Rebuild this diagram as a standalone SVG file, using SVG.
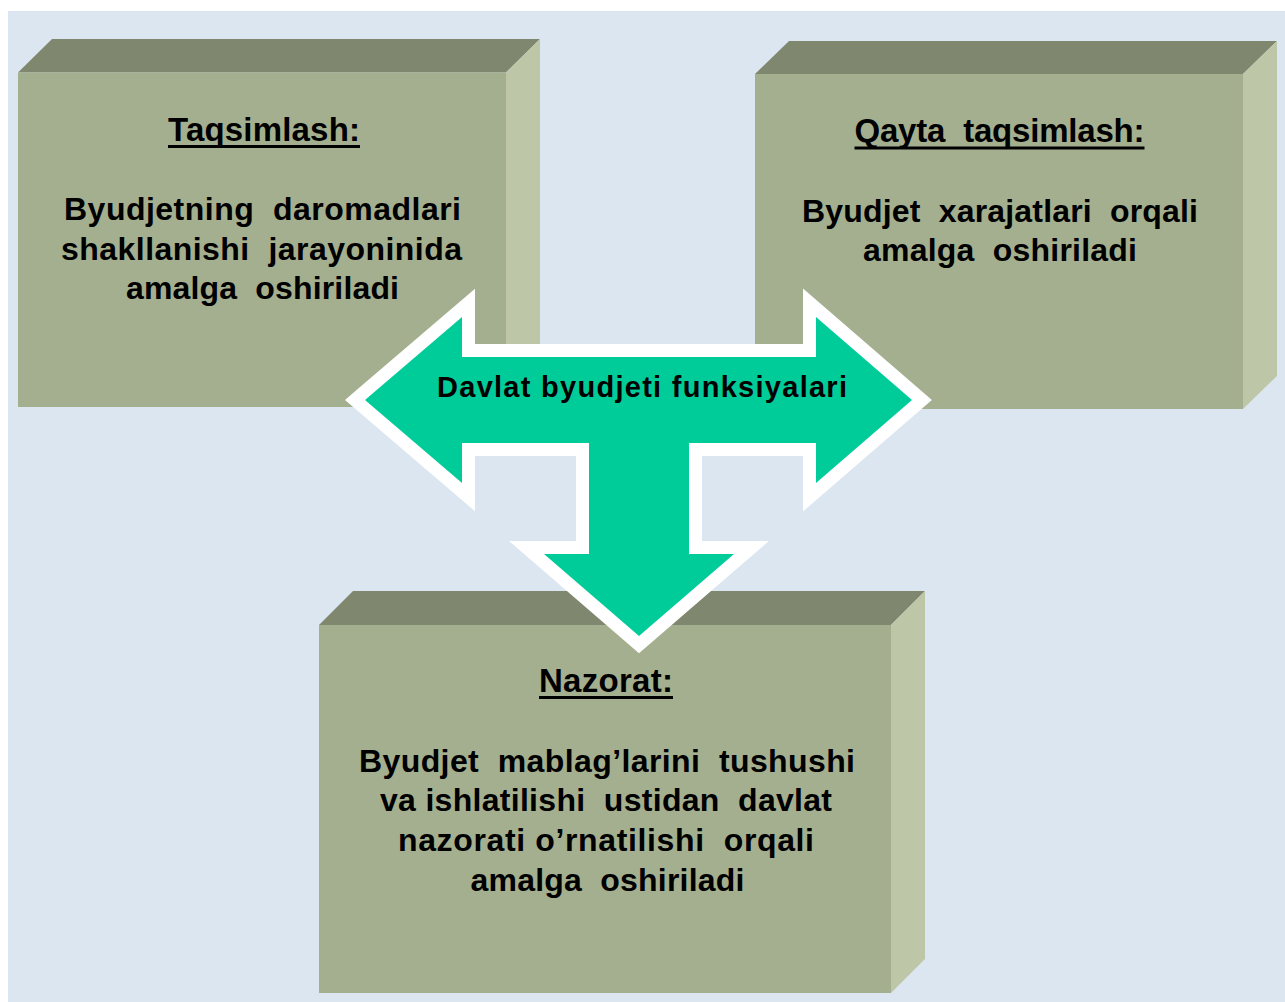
<svg xmlns="http://www.w3.org/2000/svg" width="1285" height="1002" viewBox="0 0 1285 1002">
<style>
.front{fill:#A4AF8F;}
.top{fill:#7F876F;}
.side{fill:#BDC7A7;}
.t{font-family:"Liberation Sans",Arial,sans-serif;font-weight:bold;fill:#000;white-space:pre;}
.title{font-size:33px;}
.body{font-size:32px;}
.ul{fill:#000;}
.lbl{font-size:29px;}
</style>
<rect x="0" y="0" width="1285" height="1002" fill="#FFFFFF"/>
<rect x="8" y="11" width="1277" height="991" fill="#DCE6F1"/>

<g id="node-taqsimlash">
  <polygon class="top" points="18,72.5 52,39 540,39 506,72.5"/>
  <polygon class="side" points="506,72.5 540,39 540,374 506,407"/>
  <rect class="front" x="18" y="72.5" width="488" height="334.5"/>
  <text class="t title" x="168" y="141" textLength="192">Taqsimlash:</text>
  <rect class="ul" x="168" y="145" width="192" height="3"/>
  <text class="t body" xml:space="preserve" x="64" y="220" textLength="397">Byudjetning  daromadlari</text>
  <text class="t body" xml:space="preserve" x="61" y="260" textLength="401">shakllanishi  jarayoninida</text>
  <text class="t body" xml:space="preserve" x="126" y="299" textLength="273">amalga  oshiriladi</text>
</g>

<g id="node-qayta">
  <polygon class="top" points="755,74 789,41 1277,41 1243,74"/>
  <polygon class="side" points="1243,74 1277,41 1277,376 1243,409"/>
  <rect class="front" x="755" y="74" width="488" height="335"/>
  <text class="t title" xml:space="preserve" x="854.5" y="142" textLength="290">Qayta  taqsimlash:</text>
  <rect class="ul" x="854.5" y="146.5" width="290" height="3"/>
  <text class="t body" xml:space="preserve" x="802" y="222" textLength="396">Byudjet  xarajatlari  orqali</text>
  <text class="t body" xml:space="preserve" x="863" y="261" textLength="274">amalga  oshiriladi</text>
</g>

<g id="node-nazorat">
  <polygon class="top" points="319,625 353,591 925,591 891,625"/>
  <polygon class="side" points="891,625 925,591 925,959 891,993"/>
  <rect class="front" x="319" y="625" width="572" height="368"/>
  <text class="t title" x="539" y="692" textLength="134">Nazorat:</text>
  <rect class="ul" x="539" y="696" width="134" height="3"/>
  <text class="t body" xml:space="preserve" x="359" y="772" textLength="496">Byudjet  mablag’larini  tushushi</text>
  <text class="t body" xml:space="preserve" x="380" y="811" textLength="452">va ishlatilishi  ustidan  davlat</text>
  <text class="t body" xml:space="preserve" x="398" y="851" textLength="416">nazorati o’rnatilishi  orqali</text>
  <text class="t body" xml:space="preserve" x="470.5" y="891" textLength="274">amalga  oshiriladi</text>
</g>

<g id="connectors">
  <g id="node-davlat">
    <polygon points="365,400 462,317 462,357 816,357 816,317 912,400 816,483 816,443 689,443 689,554 734,554 639,636 544,554 589,554 589,443 462,443 462,483" fill="#00CC99" stroke="#FFFFFF" stroke-width="26" stroke-linejoin="miter" stroke-miterlimit="10" paint-order="stroke"/>
    <text class="t lbl" x="437" y="397" textLength="410">Davlat byudjeti funksiyalari</text>
  </g>
</g>
</svg>
